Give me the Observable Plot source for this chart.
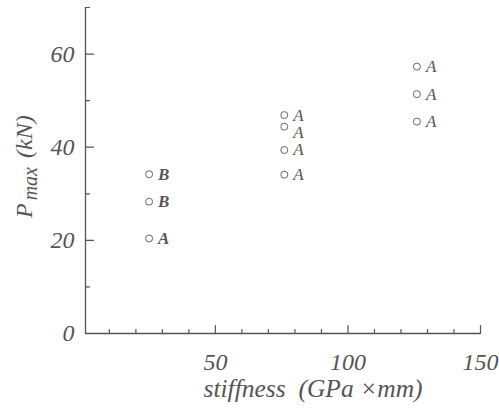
<!DOCTYPE html>
<html><head><meta charset="utf-8">
<script src="https://cdn.jsdelivr.net/npm/d3@7"></script>
<script src="https://cdn.jsdelivr.net/npm/@observablehq/plot@0.6"></script>
<style>body{margin:0;background:#fff}</style>
</head><body><div id="chart"></div>
<script>
// data
const stiffness = [25, 25, 25, 76, 76, 76, 76, 126, 126, 126];
const pmax = [34.2, 28.3, 20.4, 46.9, 44.4, 39.4, 34.1, 57.3, 51.4, 45.5];
const codes = ["B", "B", "A", "A", "A", "A", "A", "A", "A", "A"];
const xDomain = [1, 150];
const yDomain = [0, 70];
const xMajor = [50, 100, 150];
const xMinor = [10, 20, 30, 40, 60, 70, 80, 90, 110, 120, 130, 140];
const yMajor = [0, 20, 40, 60];
const yMinor = [10, 30, 50, 70];
const xTitle = "stiffness  (GPa ×mm)";

const rows = stiffness.map((x, i) => ({x, y: pmax[i], code: codes[i], i}));
const ink = "#555";
const font = "'Liberation Serif', 'Times New Roman', serif";
const line = {draw(context, l) { context.moveTo(0, 0); context.lineTo(0, -l); }};

const svg = Plot.plot({
  width: 499, height: 410,
  marginLeft: 85, marginRight: 19, marginTop: 7, marginBottom: 77,
  style: {fontFamily: font, background: "white", color: ink},
  x: {domain: xDomain, axis: null},
  y: {domain: yDomain, axis: null},
  marks: [
    Plot.ruleX([xDomain[0]], {stroke: ink, strokeWidth: 1.3}),
    Plot.ruleY([yDomain[0]], {stroke: ink, strokeWidth: 1.3}),
    // inward ticks
    Plot.vector(xMajor, {x: d => d, y: () => yDomain[0], length: 8, rotate: 0, anchor: "start", shape: line, stroke: ink, strokeWidth: 1.2}),
    Plot.vector(xMinor, {x: d => d, y: () => yDomain[0], length: 4, rotate: 0, anchor: "start", shape: line, stroke: ink, strokeWidth: 1.2}),
    Plot.vector(yMajor, {y: d => d, x: () => xDomain[0], length: 8, rotate: 90, anchor: "start", shape: line, stroke: ink, strokeWidth: 1.2}),
    Plot.vector(yMinor, {y: d => d, x: () => xDomain[0], length: 4, rotate: 90, anchor: "start", shape: line, stroke: ink, strokeWidth: 1.2}),
    // tick labels
    Plot.axisX({ticks: xMajor, tickSize: 0, tickPadding: 19, label: null, fontSize: 24, fontStyle: "italic"}),
    Plot.axisY({ticks: yMajor, tickSize: 0, tickPadding: 11, label: null, fontSize: 24, fontStyle: "italic"}),
    Plot.dot(rows, {x: "x", y: "y", r: 3.5, stroke: "#666", strokeWidth: 1, fill: "none"}),
    Plot.text(rows.filter(d => d.x < 50), {x: "x", y: "y", text: "code", dx: 9, textAnchor: "start", fontSize: 17, fontStyle: "italic", fontWeight: "bold", fill: ink}),
    Plot.text(rows.filter(d => d.x > 50 && d.i !== 4), {x: "x", y: "y", text: "code", dx: 9, textAnchor: "start", fontSize: 17, fontStyle: "italic", fill: ink}),
    Plot.text(rows.filter(d => d.i === 4), {x: "x", y: "y", text: "code", dx: 9, dy: 6, textAnchor: "start", fontSize: 17, fontStyle: "italic", fill: ink}),
    Plot.text([xTitle], {frameAnchor: "bottom", dx: 30, dy: 63, fontSize: 25.5, fontStyle: "italic", fill: ink})
  ]
});

const t = d3.select(svg).append("text")
  .attr("transform", "translate(32,218) rotate(-90)")
  .attr("text-anchor", "start")
  .attr("fill", ink)
  .attr("font-family", font)
  .attr("font-style", "italic")
  .attr("font-size", 24);
t.append("tspan").text("P");
t.append("tspan").attr("font-size", 20).attr("dx", 3).attr("dy", 5).text("max");
t.append("tspan").attr("dx", 9).attr("dy", -5).text("(kN)");

document.getElementById("chart").appendChild(svg);
</script>
</body></html>
